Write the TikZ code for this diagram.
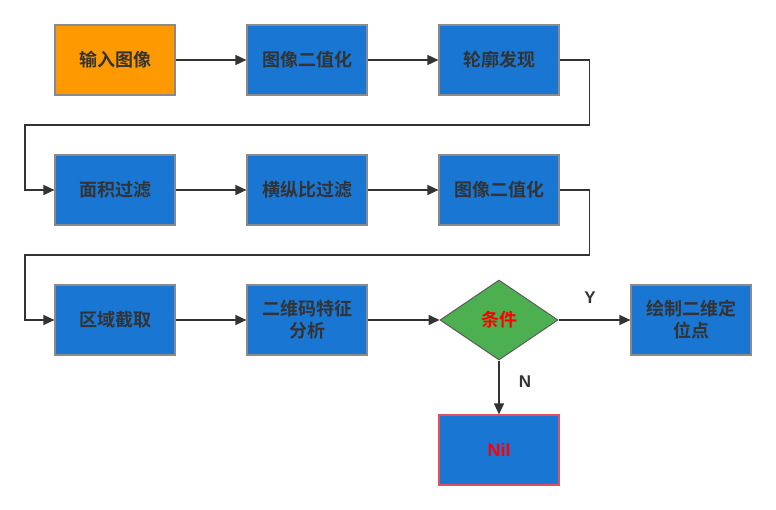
\documentclass[tikz,border=0pt]{standalone}
\usepackage{fontspec}
\newfontfamily\cjk{Noto Sans CJK SC}[BoldFont={Noto Sans CJK SC Bold}]
\newfontfamily\lat{Liberation Sans}
\usetikzlibrary{arrows.meta,shapes.geometric}
\definecolor{boxblue}{HTML}{1976D2}
\definecolor{boxorange}{HTML}{FF9900}
\definecolor{boxgreen}{HTML}{4CAF50}
\definecolor{txtdark}{HTML}{333333}
\definecolor{bordergray}{HTML}{8A8A8A}
\definecolor{nilred}{HTML}{E04F5F}
\begin{document}
\begin{tikzpicture}[x=1pt,y=-1pt,
  font=\cjk\bfseries\fontsize{18}{22}\selectfont,
  stepbox/.style={draw=bordergray,line width=1.2pt,fill=boxblue,text=txtdark,
    minimum width=120pt,minimum height=70pt,inner sep=0pt,align=center},
  decision/.style={diamond,draw=txtdark!80,line width=1pt,fill=boxgreen,text=red,
    minimum width=118pt,minimum height=80pt,inner sep=0pt,aspect=1.5},
  conn/.style={draw=txtdark,line width=1.6pt,-{Triangle[length=11pt,width=10pt]}},
  lbl/.style={text=txtdark,font=\lat\bfseries\fontsize{17}{20}\selectfont}]
\useasboundingbox (0,0) rectangle (776,510);
\node[stepbox,fill=boxorange] (a1) at (115,60) {输入图像};
\node[stepbox] (a2) at (307,60) {图像二值化};
\node[stepbox] (a3) at (499,60) {轮廓发现};
\node[stepbox] (b1) at (115,190) {面积过滤};
\node[stepbox] (b2) at (307,190) {横纵比过滤};
\node[stepbox] (b3) at (499,190) {图像二值化};
\node[stepbox] (c1) at (115,320) {区域截取};
\node[stepbox] (c2) at (307,320) {二维码特征\\分析};
\node[decision] (c3) at (499,320) {条件};
\node[stepbox] (c4) at (691,320) {绘制二维定\\位点};
\node[stepbox,draw=nilred,text=red,font=\lat\bfseries\fontsize{18}{22}\selectfont] (d3) at (499,450) {Nil};
\draw[conn] (a1) -- (a2);
\draw[conn] (a2) -- (a3);
\draw[conn] (a3.east) -- ++(30,0) |- (25,125) |- (b1.west);
\draw[conn] (b1) -- (b2);
\draw[conn] (b2) -- (b3);
\draw[conn] (b3.east) -- ++(30,0) |- (25,255) |- (c1.west);
\draw[conn] (c1) -- (c2);
\draw[conn] (c2) -- (c3);
\draw[conn] (c3) -- (c4);
\draw[conn] (c3) -- (d3);
\node[lbl] (ly) at (590,298) {Y};
\node[lbl] (ln) at (525,382) {N};
\end{tikzpicture}
\end{document}
